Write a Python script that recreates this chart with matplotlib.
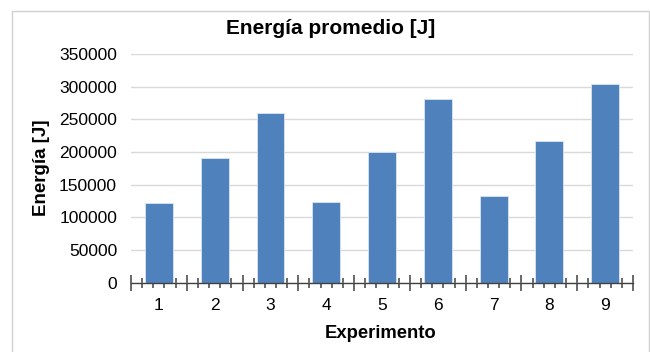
import matplotlib
matplotlib.use("Agg")
from matplotlib import pyplot as plt
from matplotlib.patches import Rectangle
from matplotlib.ticker import FixedLocator, NullFormatter
import numpy as np

plt.rcParams["font.family"] = ["Liberation Sans", "DejaVu Sans"]

# values
experimentos = [1, 2, 3, 4, 5, 6, 7, 8, 9]
energia = [122400, 190400, 260200, 124000, 200000, 280700, 133200, 216900, 304100]
yticks = [0, 50000, 100000, 150000, 200000, 250000, 300000, 350000]

W, H = 650, 352
fig = plt.figure(figsize=(W / 100, H / 100), dpi=100)
fig.patches.append(Rectangle((12 / W, -0.01), (648.5 - 12) / W, 1 - 11 / H + 0.01,
                             transform=fig.transFigure, fill=False,
                             edgecolor="#d0d0d0", linewidth=1.0))

ax = fig.add_axes([131 / W, 1 - 282.7 / H, (633 - 131) / W, (282.7 - 54) / H])

x = np.arange(len(experimentos))
ax.bar(x, energia, width=0.5, color="#4f81bd", edgecolor="#dce6f2",
       linewidth=0.6, zorder=3)

ax.set_xlim(-0.5, len(experimentos) - 0.5)
ax.set_ylim(0, 350000)
ax.set_yticks(yticks)
ax.set_yticklabels([str(v) for v in yticks])
ax.yaxis.grid(True, color="#d9d9d9", linewidth=1.0, zorder=0)
ax.tick_params(axis="y", length=0, pad=10, labelsize=12.5)

# axis line: long ticks at the boundaries, short ones between
bounds = np.arange(-0.5, len(x))
minor = [b + 0.2 * k for b in bounds[:-1] for k in range(1, 5)]
ax.xaxis.set_major_locator(FixedLocator(bounds))
ax.xaxis.set_major_formatter(NullFormatter())
ax.xaxis.set_minor_locator(FixedLocator(minor))
ax.xaxis.set_minor_formatter(NullFormatter())
ax.tick_params(axis="x", which="major", direction="inout", length=11,
               width=1.1, color="#404040")
ax.tick_params(axis="x", which="minor", direction="inout", length=7,
               width=1.1, color="#404040")

# category labels at the centres
lab = ax.secondary_xaxis(0)
lab.set_xticks(x)
lab.set_xticklabels([str(e) for e in experimentos])
lab.tick_params(length=0, pad=11, labelsize=12.5)
lab.spines["bottom"].set_visible(False)

for s in ["top", "right", "left"]:
    ax.spines[s].set_visible(False)
ax.spines["bottom"].set_color("#404040")
ax.spines["bottom"].set_linewidth(1.0)
ax.spines["bottom"].set_zorder(4)

fig.text(331 / W, 1 - 28 / H, "Energía promedio [J]", ha="center", va="center",
         fontsize=15, fontweight="bold")
fig.text(381 / W, 1 - 333 / H, "Experimento", ha="center", va="center",
         fontsize=13.3, fontweight="bold")
fig.text(42 / W, 1 - 168 / H, "Energía [J]", ha="center", va="center",
         rotation=90, fontsize=13.5, fontweight="bold")

fig.savefig("out.png", dpi=100)
